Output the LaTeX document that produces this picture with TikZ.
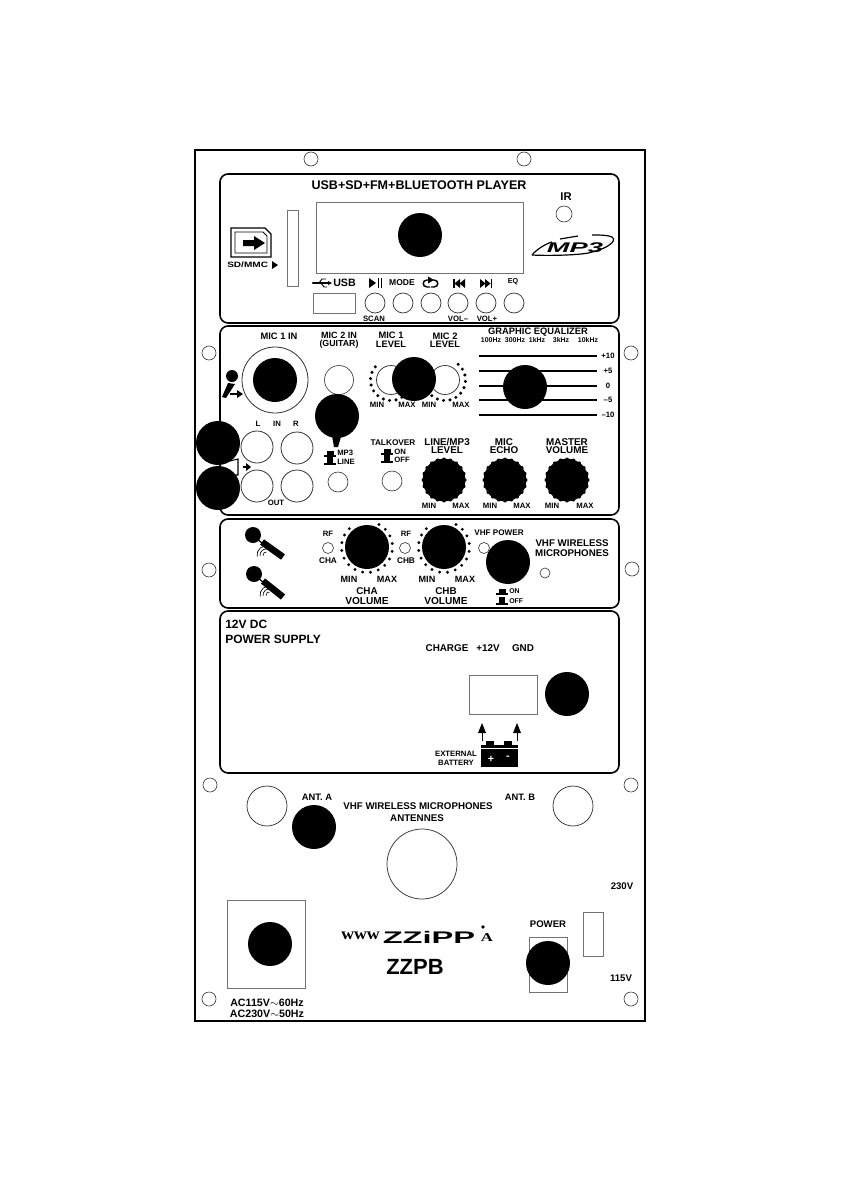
\documentclass[tikz,border=0pt]{standalone}
\usepackage{fontspec}
\usetikzlibrary{arrows.meta}
\setmainfont{Liberation Sans}
\newfontfamily\logoserif{Liberation Serif}
\newcommand{\fs}[1]{\fontsize{#1}{#1}\selectfont\bfseries}
\newcommand{\swup}[2]{\fill[black] (#1-6,#2+2) rectangle (#1+6,#2+4); \fill[black] (#1-3.5,#2-2) rectangle (#1+3.5,#2+2);}
\newcommand{\swdn}[2]{\fill[black] (#1-6,#2+2) rectangle (#1+6,#2+4); \fill[black] (#1-3,#2-4) rectangle (#1+3,#2+2);}
\tikzset{x=0.75pt,y=-0.75pt,
 panel/.style={draw=black,line width=1.2pt,rounded corners=6pt},
 hole/.style={draw=black!80,line width=0.45pt,fill=white},
 blob/.style={circle,fill=black,inner sep=0pt,minimum size=33pt},
 lab/.style={inner sep=0pt,align=center,font=\fs{7},text=black},
 labs/.style={inner sep=0pt,align=center,font=\fs{5.8},text=black},
 labxs/.style={inner sep=0pt,align=center,font=\fs{5.2},text=black},
 labl/.style={inner sep=0pt,align=center,font=\fs{9.4},text=black},
 thinbox/.style={draw=black!55,line width=0.6pt,fill=white},
 eqline/.style={draw=black,line width=1.1pt},
 dotk/.style={fill=black}
}
\begin{document}
\begin{tikzpicture}
\useasboundingbox (0,0) rectangle (843,1192);
\fill[white] (0,0) rectangle (843,1192);
\draw[black,line width=2pt] (195,150) rectangle (645,1021);
% panels
\draw[panel] (220,174) rectangle (619,323);
\draw[panel] (220,326) rectangle (619,515);
\draw[panel] (220,519) rectangle (619,608);
\draw[panel] (220,611) rectangle (619,773);
% holes
\foreach \x/\y in {311/159,524/159,209/353,631/353,209/570,632/569,210/785,631/785,209/999,631/999}
  \draw[hole] (\x,\y) circle (7);
% --- player
\node[labl] (ptitle) at (419,185) {USB+SD+FM+BLUETOOTH PLAYER};
\draw[thinbox] (316,202) rectangle (523,273);
\draw[thinbox] (287,210) rectangle (298,286);
\node[lab,font=\fs{8.4}] (ir) at (566,197) {IR};
\draw[hole] (564,214) circle (8);
% sd icon
\draw[black,line width=1pt] (231,228) -- (265,228) -- (271,234) -- (271,257) -- (231,257) -- cycle;
\draw[black,line width=0.6pt] (235,232) -- (263,232) -- (267,236) -- (267,253) -- (235,253) -- cycle;
\fill[black] (243,240) -- (254,240) -- (254,236) -- (265,243) -- (254,250) -- (254,246) -- (243,246) -- cycle;
\node[labs,anchor=west] (sd) at (227,265) {\scalebox{1.3}[1]{SD/MMC}};
\fill[black] (272,261) -- (278,265) -- (272,269) -- cycle;
% mp3 logo
\draw[black,line width=0.9pt] (532,255) .. controls (536,250) and (545,244) .. (552,242);
\draw[black,line width=0.9pt] (560,239) -- (578,236);
\draw[black,line width=0.9pt] (532,255) .. controls (550,256) and (585,255) .. (592,252);
\draw[black,line width=0.9pt] (592,252) .. controls (606,249) and (618,241) .. (612,237) .. controls (608,235) and (600,235) .. (592,235);
\node[inner sep=0pt,font=\fontsize{10.5}{10.5}\selectfont\bfseries\itshape] (mp3) at (575,248) {\scalebox{1.95}[1]{MP3}};
% usb
\node[lab,font=\fs{8},anchor=west] (usb) at (333,283) {USB};
\draw[black,line width=0.8pt] (313,283) -- (330,283);
\draw[black,line width=0.7pt] (319,283) -- (322,279) -- (326,279);
\draw[black,line width=0.7pt] (321,283) -- (324,287) -- (327,287);
\fill[black] (313,283) circle (1.2);
\fill[black] (328,281) -- (332,283) -- (328,285) -- cycle;
\draw[thinbox] (313,293) rectangle (355,313);
\foreach \x in {375,403,431,458,486,514} \draw[hole,line width=0.55pt] (\x,303) circle (10);
\fill[black] (369,278) -- (369,288) -- (376,283) -- cycle;
\fill[black] (377.5,278) rectangle (379,288);
\fill[black] (380.5,278) rectangle (382,288);
\node[labs,font=\fs{6.4}] (mode) at (402,283) {MODE};
\draw[black,line width=1.1pt] (430,287) -- (427,287) .. controls (422,287) and (422,280) .. (427,280) -- (429,280);
\fill[black] (428,276.5) -- (434,280) -- (428,283.5) -- cycle;
\draw[black,line width=1.1pt] (433,280) -- (434,280) .. controls (439,280) and (439,287) .. (434,287) -- (431,287);
\foreach \x in {453}{\fill[black] (\x,279) rectangle (\x+1.5,288);
 \fill[black] (\x+7,279) -- (\x+1.5,283.5) -- (\x+7,288) -- cycle;
 \fill[black] (\x+12,279) -- (\x+6.5,283.5) -- (\x+12,288) -- cycle;}
\foreach \x in {480}{
 \fill[black] (\x,279) -- (\x+5.5,283.5) -- (\x,288) -- cycle;
 \fill[black] (\x+5,279) -- (\x+10.5,283.5) -- (\x+5,288) -- cycle;
 \fill[black] (\x+10.5,279) rectangle (\x+12,288);}
\node[labxs,font=\fs{5.4}] (eq) at (513,282) {EQ};
\node[labs] (scan) at (374,319) {SCAN};
\node[labs] (voldn) at (458,319) {VOL--};
\node[labs] (volup) at (487,319) {VOL+};
% --- mixer
\node[lab] (mic1) at (279,336) {MIC 1 IN};
\node[lab,font=\fs{6.8}] (mic2a) at (339,335) {MIC 2 IN};
\node[lab,font=\fs{6.6}] (mic2b) at (339,344) {(GUITAR)};
\node[lab] (l1a) at (391,335) {MIC 1};
\node[lab] (l1b) at (391,344) {LEVEL};
\node[lab] (l2a) at (445,336) {MIC 2};
\node[lab] (l2b) at (445,344) {LEVEL};
\draw[hole,line width=0.6pt] (275,380) circle (33);
\draw[hole] (339,380) circle (14.5);
\foreach \c in {391,445}{
 \draw[hole,line width=0.55pt] (\c,380) circle (14.5);
 \foreach \a in {-50,-32,...,230} \fill[dotk] (\c,380) ++(\a:20.5) circle (1.7);
}
\foreach \x/\t in {377/MIN,407/MAX,429/MIN,461/MAX}{\node[labs] at (\x,404.5) {\t};}
% mic icon
\fill[black] (232,376) circle (6);
\fill[black] (228,383) -- (235,384) -- (226,398) -- (222,397) -- cycle;
\fill[black] (230,393) rectangle (238,395);
\fill[black] (237,390) -- (243,394) -- (237,398) -- cycle;
% EQ
\node[lab] (geq) at (538,332) {GRAPHIC EQUALIZER};
\foreach \x/\t in {491/100Hz,515/300Hz,537/1kHz,561/3kHz,588/10kHz}{\node[labxs] at (\x,340) {\t};}
\foreach \y/\t in {356/+10,371/+5,386/0,400/--5,415/--10}{
 \draw[eqline] (479,\y) -- (597,\y);
 \node[labs] at (608,\y) {\t};
}
% inputs
\node[labs] (lL) at (258,424) {L};
\node[labs] (lI) at (277,424) {IN};
\node[labs] (lR) at (296,424) {R};
\node[labs] (lO) at (276,503) {OUT};
\foreach \x/\y in {257/447,297/448,257/486,297/486} \draw[hole,line width=0.6pt] (\x,\y) circle (16);
\draw[black,line width=0.8pt] (230,461) -- (238,459) -- (238,475) -- (230,475);
\fill[black] (243,466) rectangle (247,468);
\fill[black] (246,463) -- (251,467) -- (246,471) -- cycle;
% switch icons
\swup{330}{453}\swdn{330}{461}
\node[labs,anchor=west] (smp3) at (337,453) {MP3};
\node[labs,anchor=west] (sline) at (337,461.5) {LINE};
\draw[hole] (338,482) circle (10);
\node[lab,font=\fs{6.2}] (tk) at (393,443) {TALKOVER};
\swup{387}{451}\swdn{387}{459}
\node[labs,anchor=west] (ton) at (394,451.5) {ON};
\node[labs,anchor=west] (toff) at (394,459.5) {OFF};
\draw[hole] (392,481) circle (10);
% lower knobs
\node[lab,font=\fs{7.4}] (ll1) at (447,442.5) {LINE/MP3};
\node[lab,font=\fs{7.4}] (ll2) at (447,450.5) {LEVEL};
\node[lab,font=\fs{7.4}] (me1) at (504,442.5) {MIC};
\node[lab,font=\fs{7.4}] (me2) at (504,450.5) {ECHO};
\node[lab,font=\fs{7.4}] (mv1) at (567,442.5) {MASTER};
\node[lab,font=\fs{7.4}] (mv2) at (567,450.5) {VOLUME};
\foreach \c/\a/\b in {444/429/461,505/490/522,567/552/585}{
 \node[blob,minimum size=32pt] at (\c,480) {};
 \foreach \q in {0,18,...,342} \fill[dotk] (\c,480) ++(\q:20.5) circle (2);
 \node[labs] at (\a,506) {MIN};
 \node[labs] at (\b,506) {MAX};
}
% --- VHF
\foreach \x/\y/\ex/\ey in {253/535/283/557,254/574/283/597}{
 \fill[black] (\x,\y) circle (8);
 \draw[black,line width=0.9pt] (\x+4,\y+4) -- (\x+9,\y+8);
 \draw[black,line width=5pt] (\x+9,\y+7) -- (\ex,\ey);
}
\foreach \x/\y in {263/558,266/598}{
 \foreach \rr in {3,6,9} \draw[black,line width=0.5pt] (\x+3,\y-3) ++(170:\rr) arc (170:280:\rr);
}
\node[labs] (rfa) at (328,534) {RF};
\draw[hole] (328,548) circle (5.5);
\node[labs,font=\fs{6.2}] (cha) at (328,561) {CHA};
\node[labs] (rfb) at (406,534) {RF};
\draw[hole] (405,548) circle (5.5);
\node[labs,font=\fs{6.2}] (chb) at (406,561) {CHB};
\foreach \c/\a/\b/\t/\tx in {367/349/387/CHA/367,444/427/465/CHB/446}{
 \foreach \q in {-62,-44,...,242} \fill[dotk] (\c,547) ++(\q:25.5) circle (1.6);
 \node[lab,font=\fs{6.8}] at (\a,579) {MIN};
 \node[lab,font=\fs{6.8}] at (\b,579) {MAX};
 \node[lab,font=\fs{7.4}] at (\tx,591) {\t};
 \node[lab,font=\fs{7.6}] at (\tx,601) {VOLUME};
}
\node[labs,font=\fs{6.1}] (vp) at (499,533) {VHF POWER};
\draw[hole] (484,548) circle (5.5);
\node[lab,font=\fs{7.3}] (vw1) at (572,543) {VHF WIRELESS};
\node[lab,font=\fs{7.3}] (vw2) at (572,553) {MICROPHONES};
\draw[hole] (545,573) circle (5);
\swup{502}{591}\swdn{502}{601}
\node[labxs,anchor=west] (von) at (509,591.5) {ON};
\node[labxs,anchor=west] (voff) at (509,601.5) {OFF};
% --- power supply
\node[lab,font=\fs{9},anchor=west] (dc1) at (225,624) {12V DC};
\node[lab,font=\fs{9},anchor=west] (dc2) at (225,639) {POWER SUPPLY};
\node[lab,font=\fs{7.4}] (chg) at (447,648) {CHARGE};
\node[lab,font=\fs{7.4}] (p12) at (488,648) {+12V};
\node[lab,font=\fs{7.4}] (gnd) at (523,648) {GND};
\node[thinbox,minimum width=51pt,minimum height=29.3pt,inner sep=0pt] (term) at (503,694.5) {};
\coordinate (a1) at (482,741); \coordinate (a1t) at (482,723);
\coordinate (a2) at (517,741); \coordinate (a2t) at (517,723);
\draw[black,line width=0.7pt] (a1) -- (482,730);
\draw[black,line width=0.7pt] (a2) -- (517,730);
\fill[black] (a1t) -- (486,733) -- (478,733) -- cycle;
\fill[black] (a2t) -- (521,733) -- (513,733) -- cycle;
\fill[black] (481,745) rectangle (518,767);
\fill[black] (486,741) rectangle (494,746);
\fill[black] (504,741) rectangle (512,746);
\draw[white,line width=0.4pt] (481,748) -- (518,748);
\node[lab,text=white,font=\fs{8}] (bp) at (491,759) {+};
\node[lab,text=white,font=\fs{8}] (bm) at (508,758) {-};
\node[labs] (ext) at (456,754) {EXTERNAL};
\node[labs] (bat) at (456,763) {BATTERY};
% --- bottom
\draw[hole,line width=0.55pt] (267,806) circle (20);
\draw[hole,line width=0.55pt] (573,806) circle (20);
\draw[hole,line width=0.55pt] (422,864) circle (35);
\node[lab] (anta) at (317,797) {ANT. A};
\node[lab] (antb) at (520,797) {ANT. B};
\node[lab,font=\fs{7.3}] (vhf1) at (418,806) {VHF WIRELESS MICROPHONES};
\node[lab,font=\fs{7.3}] (vhf2) at (417,818) {ANTENNES};
\node[labs,font=\fs{7.2}] (v230) at (622,886) {230V};
\node[labs,font=\fs{7.2}] (v115) at (621,978) {115V};
\draw[thinbox] (227,900) rectangle (305,988);
\node[lab,font=\fs{8}] (ac1) at (267,1003) {AC115V$\sim$60Hz};
\node[lab,font=\fs{8}] (ac2) at (267,1014) {AC230V$\sim$50Hz};
\node[inner sep=0pt,font=\logoserif\fontsize{9.5}{9.5}\selectfont\bfseries] (www) at (360.5,936) {\scalebox{1.4}[1.3]{www}};
\node[inner sep=0pt,font=\fontsize{10.5}{10.5}\selectfont\bfseries] (zz) at (429,937) {\scalebox{2.33}[1.2]{ZZiPP}};
\node[inner sep=0pt,font=\logoserif\fontsize{9}{9}\selectfont\bfseries] (za) at (487,938) {\scalebox{1.4}[1]{A}};
\fill[black] (483,927) circle (1.8);
\node[inner sep=0pt,font=\fontsize{16.5}{16.5}\selectfont\bfseries] (zzpb) at (415,967) {ZZPB};
\node[lab,font=\fs{7.2}] (pw) at (548,924) {POWER};
\draw[thinbox] (529,937) rectangle (567,992);
\draw[thinbox] (583,912) rectangle (603,956);
% black circles covering labels
\foreach \n/\x/\y in {a/420/235,b/275/380,c/337/416,d/414/379,e/525/387,f/218/443,g/218/488,h/367/547,i/444/547,j/508/562,k/567/694,l/314/827,m/270/944,n/548/963}
  \node[blob] (dot\n) at (\x,\y) {};
\fill[black] (331,430) -- (343,430) -- (338,447) -- (334,447) -- cycle;
\end{tikzpicture}
\end{document}
